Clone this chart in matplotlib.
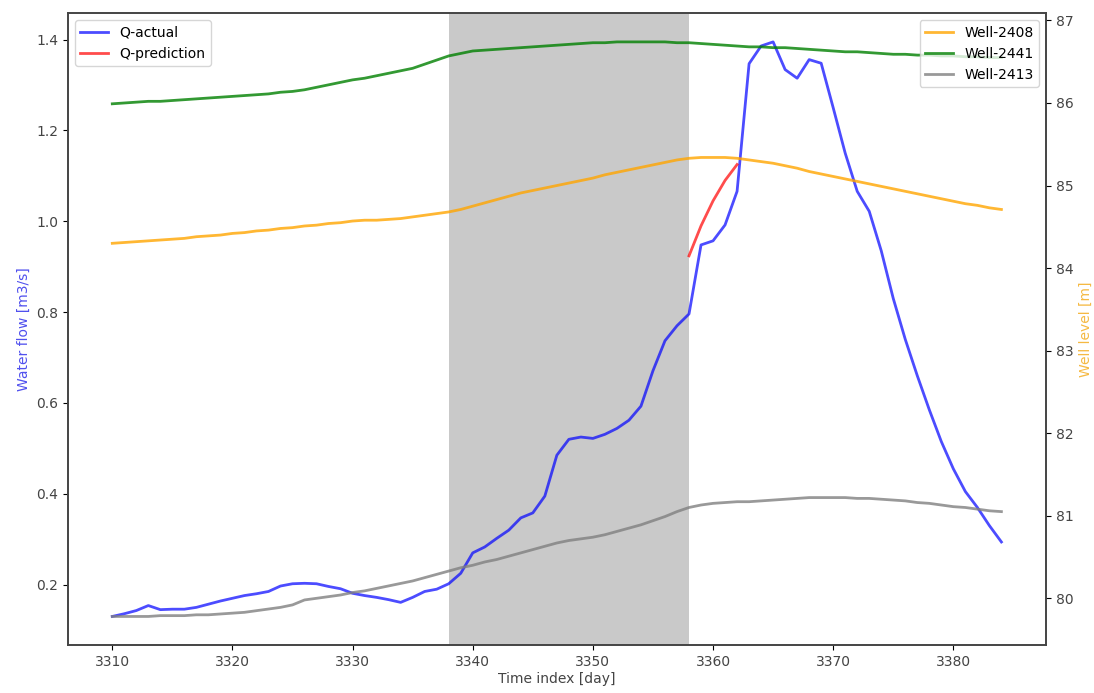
import numpy as np
import matplotlib
matplotlib.use("Agg")
import matplotlib.pyplot as plt

days = np.arange(3310, 3385)

q_actual = [0.130, 0.136, 0.143, 0.154, 0.145, 0.146, 0.146, 0.150, 0.157, 0.164,
            0.170, 0.176, 0.180, 0.185, 0.197, 0.202, 0.203, 0.202, 0.196, 0.191,
            0.181, 0.176, 0.172, 0.167, 0.161, 0.172, 0.185, 0.190, 0.202, 0.225,
            0.270, 0.283, 0.302, 0.320, 0.347, 0.358, 0.395, 0.485, 0.520, 0.525,
            0.522, 0.531, 0.544, 0.562, 0.593, 0.671, 0.737, 0.770, 0.796, 0.948,
            0.957, 0.992, 1.066, 1.347, 1.386, 1.395, 1.334, 1.315, 1.356, 1.348,
            1.250, 1.150, 1.066, 1.022, 0.935, 0.830, 0.740, 0.660, 0.585, 0.515,
            0.455, 0.405, 0.370, 0.330, 0.294]

pred_days = [3358, 3359, 3360, 3361, 3362]
q_pred = [0.924, 0.990, 1.045, 1.090, 1.125]

well_2408 = [84.30, 84.31, 84.32, 84.33, 84.34, 84.35, 84.36, 84.38, 84.39, 84.40,
             84.42, 84.43, 84.45, 84.46, 84.48, 84.49, 84.51, 84.52, 84.54, 84.55,
             84.57, 84.58, 84.58, 84.59, 84.60, 84.62, 84.64, 84.66, 84.68, 84.71,
             84.75, 84.79, 84.83, 84.87, 84.91, 84.94, 84.97, 85.00, 85.03, 85.06,
             85.09, 85.13, 85.16, 85.19, 85.22, 85.25, 85.28, 85.31, 85.33, 85.34,
             85.34, 85.34, 85.33, 85.31, 85.29, 85.27, 85.24, 85.21, 85.17, 85.14,
             85.11, 85.08, 85.05, 85.02, 84.99, 84.96, 84.93, 84.90, 84.87, 84.84,
             84.81, 84.78, 84.76, 84.73, 84.71]

well_2441 = [85.99, 86.00, 86.01, 86.02, 86.02, 86.03, 86.04, 86.05, 86.06, 86.07,
             86.08, 86.09, 86.10, 86.11, 86.13, 86.14, 86.16, 86.19, 86.22, 86.25,
             86.28, 86.30, 86.33, 86.36, 86.39, 86.42, 86.47, 86.52, 86.57, 86.60,
             86.63, 86.64, 86.65, 86.66, 86.67, 86.68, 86.69, 86.70, 86.71, 86.72,
             86.73, 86.73, 86.74, 86.74, 86.74, 86.74, 86.74, 86.73, 86.73, 86.72,
             86.71, 86.70, 86.69, 86.68, 86.68, 86.67, 86.67, 86.66, 86.65, 86.64,
             86.63, 86.62, 86.62, 86.61, 86.60, 86.59, 86.59, 86.58, 86.58, 86.57,
             86.57, 86.56, 86.56, 86.55, 86.55]

well_2413 = [79.78, 79.78, 79.78, 79.78, 79.79, 79.79, 79.79, 79.80, 79.80, 79.81,
             79.82, 79.83, 79.85, 79.87, 79.89, 79.92, 79.98, 80.00, 80.02, 80.04,
             80.07, 80.09, 80.12, 80.15, 80.18, 80.21, 80.25, 80.29, 80.33, 80.37,
             80.40, 80.44, 80.47, 80.51, 80.55, 80.59, 80.63, 80.67, 80.70, 80.72,
             80.74, 80.77, 80.81, 80.85, 80.89, 80.94, 80.99, 81.05, 81.10, 81.13,
             81.15, 81.16, 81.17, 81.17, 81.18, 81.19, 81.20, 81.21, 81.22, 81.22,
             81.22, 81.22, 81.21, 81.21, 81.20, 81.19, 81.18, 81.16, 81.15, 81.13,
             81.11, 81.10, 81.08, 81.06, 81.05]

span_start, span_end = 3338, 3358

fig, ax1 = plt.subplots(figsize=(10.94, 6.93), dpi=100)
fig.subplots_adjust(left=0.062, right=0.956, top=0.981, bottom=0.069)

ax1.axvspan(span_start, span_end, color='gray', alpha=0.42, lw=0)
ax1.plot(days, q_actual, color='blue', alpha=0.7, lw=2, label='Q-actual')
ax1.plot(pred_days, q_pred, color='red', alpha=0.7, lw=2, label='Q-prediction')
ax1.set_xlabel('Time index [day]', fontsize=10, color='#444444', labelpad=2)
ax1.set_ylabel('Water flow [m3/s]', fontsize=10, color='#5050ee')
ax1.legend(loc='upper left', fontsize=10)

ax2 = ax1.twinx()
ax2.plot(days, well_2408, color='orange', alpha=0.8, lw=2, label='Well-2408')
ax2.plot(days, well_2441, color='green', alpha=0.8, lw=2, label='Well-2441')
ax2.plot(days, well_2413, color='gray', alpha=0.8, lw=2, label='Well-2413')
ax2.set_ylabel('Well level [m]', fontsize=10, color='#f5b942')
ax2.legend(loc='upper right', fontsize=10)

for ax in (ax1, ax2):
    ax.tick_params(labelsize=10, labelcolor='#444444')
    for s in ax.spines.values():
        s.set_color('#444444')
        s.set_linewidth(1.2)

fig.savefig('out.png', dpi=100)
